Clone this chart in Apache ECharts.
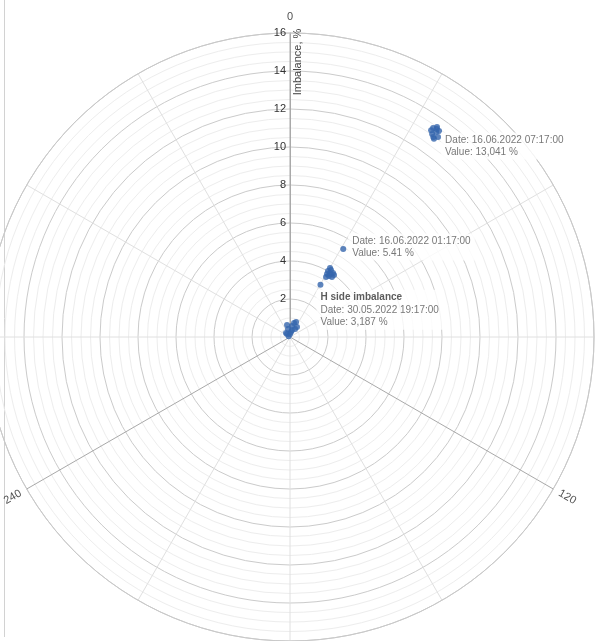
<!DOCTYPE html>
<html>
<head>
<meta charset="utf-8">
<script src="https://cdn.jsdelivr.net/npm/echarts@6/dist/echarts.min.js"></script>
<style>
  html, body { margin: 0; padding: 0; background: #fff; }
  #chart { width: 597px; height: 641px; }
</style>
</head>
<body>
<div id="chart"></div>
<script>
// Readings as [imbalance %, phase angle deg]
const nearZero = [
  [0.08, 300], [0.22, 315], [0.27, 11], [0.43, 346], [0.65, 346], [0.59, 10],
  [0.77, 16], [0.85, 22], [0.64, 35], [0.50, 32], [0.37, 16], [0.16, 0], [0.30, 315]
];
const midCluster = [
  [4.01, 29.9], [4.13, 31.5], [4.06, 33.9], [3.81, 32.6], [3.85, 35.0],
  [3.85, 30.4], [4.20, 30.1], [4.00, 35.4], [3.68, 31.0], [3.95, 32.5]
];
const highCluster = [
  [13.33, 34.4], [13.49, 35.0], [13.25, 35.5], [13.10, 36.5], [12.89, 36.0],
  [13.38, 35.9], [13.18, 34.3], [13.40, 35.2], [12.95, 35.6]
];
// Annotated readings
const markedValues = [[3.187, 30.2], [5.41, 31.2], [13.041, 35.0]];
const markedDates = ['30.05.2022 19:17:00', '16.06.2022 01:17:00', '16.06.2022 07:17:00'];
const markedTexts = ['3,187 %', '5.41 %', '13,041 %'];
const seriesTitle = 'H side imbalance';

// Angle tick labels shown on the rim
const angleTicks = [0, 120, 240];
const angleTickRotate = [0, -30, 30];
const rimRadius = 16.85;

const radiusMax = 16;
const radiusStep = 2;

const font = 'Liberation Sans, Arial, sans-serif';
const pointColor = '#3565ad';

const chart = echarts.init(document.getElementById('chart'), null, { renderer: 'canvas' });

const markedData = markedValues.map((v, i) => {
  const item = { value: v };
  if (i === 0) {
    item.label = {
      show: true,
      position: [-1, 8],
      align: 'left',
      verticalAlign: 'top',
      formatter: '{t|' + seriesTitle + '}\n{d|Date: ' + markedDates[i] + '}\n{d|Value: ' + markedTexts[i] + '}'
    };
  } else {
    item.label = {
      show: true,
      position: 'right',
      distance: 5,
      offset: i === 1 ? [-3, -2] : [1, 12],
      formatter: '{d|Date: ' + markedDates[i] + '}\n{d|Value: ' + markedTexts[i] + '}'
    };
  }
  return item;
});

const rimData = angleTicks.map((a, i) => ({
  value: [rimRadius, a],
  label: { rotate: angleTickRotate[i], formatter: String(a) }
}));

const option = {
  animation: false,
  backgroundColor: '#fff',
  polar: { center: [290, 337], radius: 304 },
  angleAxis: {
    type: 'value',
    min: 0,
    max: 360,
    interval: 120,
    startAngle: 90,
    clockwise: true,
    axisLine: { show: true, lineStyle: { color: '#c9c9c9', width: 1 } },
    axisTick: { show: false },
    axisLabel: { show: false },
    splitLine: { show: true, lineStyle: { color: '#a9a9a9', width: 1 } },
    minorTick: { show: false, splitNumber: 4 },
    minorSplitLine: { show: true, lineStyle: { color: '#e0e0e0', width: 1 } }
  },
  radiusAxis: {
    type: 'value',
    min: 0,
    max: radiusMax,
    interval: radiusStep,
    axisLine: { show: true, lineStyle: { color: '#a9a9a9', width: 1 } },
    axisTick: { show: false },
    axisLabel: {
      show: true,
      margin: 4,
      color: '#333',
      fontSize: 11,
      fontFamily: font,
      formatter: v => (v === 0 ? '' : String(v))
    },
    splitLine: { show: true, lineStyle: { color: '#cbcbcb', width: 1 } },
    minorTick: { show: false, splitNumber: 4 },
    minorSplitLine: { show: true, lineStyle: { color: '#ededed', width: 1 } }
  },
  graphic: [
    {
      type: 'line',
      shape: { x1: 4.5, y1: 0, x2: 4.5, y2: 637 },
      style: { stroke: '#d2d2d2', lineWidth: 1 },
      silent: true
    },
    {
      type: 'text',
      x: 298,
      y: 62,
      rotation: Math.PI / 2,
      style: {
        text: 'Imbalance, %',
        fill: '#444',
        font: '11px ' + font,
        align: 'center',
        verticalAlign: 'middle'
      },
      z: 10
    }
  ],
  series: [
    {
      type: 'scatter',
      coordinateSystem: 'polar',
      symbol: 'circle',
      symbolSize: 6,
      itemStyle: { color: pointColor },
      data: nearZero.concat(midCluster, highCluster),
      z: 3
    },
    {
      type: 'scatter',
      coordinateSystem: 'polar',
      symbol: 'circle',
      symbolSize: 6,
      itemStyle: { color: pointColor },
      label: {
        color: '#555',
        fontFamily: font,
        fontSize: 10,
        backgroundColor: '#fff',
        padding: [1, 4],
        rich: {
          t: { fontWeight: 'bold', fontSize: 10, color: '#333', fontFamily: font, lineHeight: 13 },
          d: { fontSize: 10, color: '#555', fontFamily: font, lineHeight: 12.5 }
        }
      },
      data: markedData,
      z: 4
    },
    {
      type: 'scatter',
      coordinateSystem: 'polar',
      clip: false,
      silent: true,
      symbol: 'circle',
      symbolSize: 1,
      itemStyle: { color: 'rgba(0,0,0,0)' },
      label: {
        show: true,
        position: 'inside',
        color: '#222',
        fontSize: 11,
        fontFamily: font
      },
      data: rimData,
      z: 5
    }
  ]
};

chart.setOption(option);
</script>
</body>
</html>
